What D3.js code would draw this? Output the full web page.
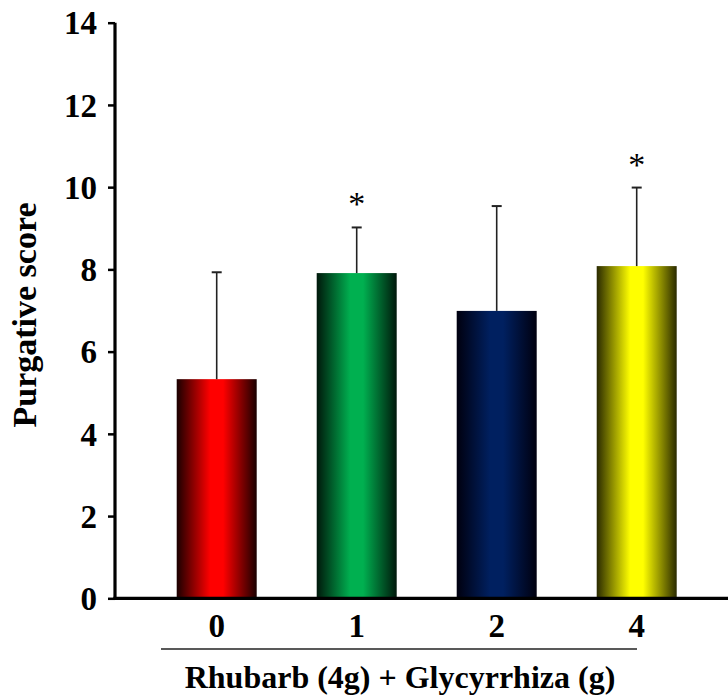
<!DOCTYPE html>
<html>
<head>
<meta charset="utf-8">
<script src="https://cdn.jsdelivr.net/npm/d3@7"></script>
<style>
  html, body { margin: 0; padding: 0; background: #fff; }
  svg { display: block; }
  text { font-family: "Liberation Serif", "Times New Roman", serif; }
</style>
</head>
<body>
<svg id="chart" width="728" height="697"></svg>
<script>
// Glycyrrhiza dose groups (g), each given with 4 g rhubarb
const doses = ["0", "1", "2", "4"];
// Mean purgative score per group
const means = [5.33, 7.91, 6.99, 8.08];
// Upper end of the error bar (mean + SD)
const upperErr = [7.93, 9.02, 9.54, 9.99];
// Groups marked as significant
const signif = [false, true, false, true];
// Y-axis tick values
const yTicks = [0, 2, 4, 6, 8, 10, 12, 14];

// Edge / centre colours for the cylinder-like bar shading
const edgeColors = ["#1a0000", "#00180b", "#00000f", "#2a2a00"];
const centerColors = ["#ff0000", "#00b050", "#002060", "#ffff00"];

const svg = d3.select("#chart");

const y = d3.scaleLinear().domain([0, 14]).range([598.3, 22.7]);
const x = d3.scaleBand()
  .domain(doses)
  .range([146.7, 706.7])
  .paddingInner(0.4286)
  .paddingOuter(0.2143);

// Horizontal gradients: dark edges, bright centre
const defs = svg.append("defs");
doses.forEach((d, i) => {
  const g = defs.append("linearGradient")
    .attr("id", "grad" + i)
    .attr("x1", "0%").attr("x2", "100%")
    .attr("y1", "0%").attr("y2", "0%");
  g.append("stop").attr("offset", "0%").attr("stop-color", edgeColors[i]);
  g.append("stop").attr("offset", "42%").attr("stop-color", centerColors[i]);
  g.append("stop").attr("offset", "58%").attr("stop-color", centerColors[i]);
  g.append("stop").attr("offset", "100%").attr("stop-color", edgeColors[i]);
});

// Bars
svg.append("g").selectAll("rect")
  .data(doses)
  .join("rect")
  .attr("x", d => x(d))
  .attr("width", x.bandwidth())
  .attr("y", (d, i) => y(means[i]))
  .attr("height", (d, i) => y(0) - y(means[i]))
  .attr("fill", (d, i) => `url(#grad${i})`);

// Upper error bars
const err = svg.append("g")
  .attr("stroke", "#222")
  .attr("stroke-width", 1.6);
doses.forEach((d, i) => {
  const cx = x(d) + x.bandwidth() / 2;
  err.append("line")
    .attr("x1", cx).attr("x2", cx)
    .attr("y1", y(means[i])).attr("y2", y(upperErr[i]));
  err.append("line")
    .attr("x1", cx - 5).attr("x2", cx + 5)
    .attr("y1", y(upperErr[i])).attr("y2", y(upperErr[i]))
    .attr("stroke-width", 2);
});

// Significance markers
svg.append("g").selectAll("text")
  .data(doses.filter((d, i) => signif[i]))
  .join("text")
  .attr("x", d => x(d) + x.bandwidth() / 2)
  .attr("y", d => y(upperErr[doses.indexOf(d)]) - 12)
  .attr("text-anchor", "middle")
  .attr("font-size", 34)
  .attr("fill", "#000")
  .text("*");

// Y axis
const yAxis = svg.append("g")
  .attr("transform", "translate(115,0)")
  .call(d3.axisLeft(y).tickValues(yTicks).tickSize(7).tickPadding(11).tickFormat(d3.format("d")));
yAxis.select(".domain").attr("stroke", "#000").attr("stroke-width", 3.2)
  .attr("d", `M0,${y(14)}V${y(0) + 1.5}`);
yAxis.selectAll(".tick line").attr("stroke", "#000").attr("stroke-width", 2.5);
yAxis.selectAll(".tick text")
  .attr("font-family", "'Liberation Serif', 'Times New Roman', serif")
  .attr("font-size", 33)
  .attr("font-weight", "bold")
  .attr("fill", "#000")
  .attr("dy", "0.34em");

// X axis baseline across to the right edge
svg.append("line")
  .attr("x1", 113.4).attr("x2", 728)
  .attr("y1", y(0)).attr("y2", y(0))
  .attr("stroke", "#000").attr("stroke-width", 3.2);

// X category labels
svg.append("g").selectAll("text")
  .data(doses)
  .join("text")
  .attr("x", d => x(d) + x.bandwidth() / 2)
  .attr("y", 637)
  .attr("text-anchor", "middle")
  .attr("font-size", 33)
  .attr("font-weight", "bold")
  .text(d => d);

// Rule between category labels and axis title
svg.append("line")
  .attr("x1", 161).attr("x2", 637)
  .attr("y1", 649).attr("y2", 649)
  .attr("stroke", "#222").attr("stroke-width", 1.6);

// Axis titles
svg.append("text")
  .attr("x", 400).attr("y", 688)
  .attr("text-anchor", "middle")
  .attr("font-size", 32)
  .attr("font-weight", "bold")
  .text("Rhubarb (4g) + Glycyrrhiza (g)");

svg.append("text")
  .attr("transform", "translate(36,315) rotate(-90)")
  .attr("text-anchor", "middle")
  .attr("font-size", 34)
  .attr("font-weight", "bold")
  .text("Purgative score");
</script>
</body>
</html>
